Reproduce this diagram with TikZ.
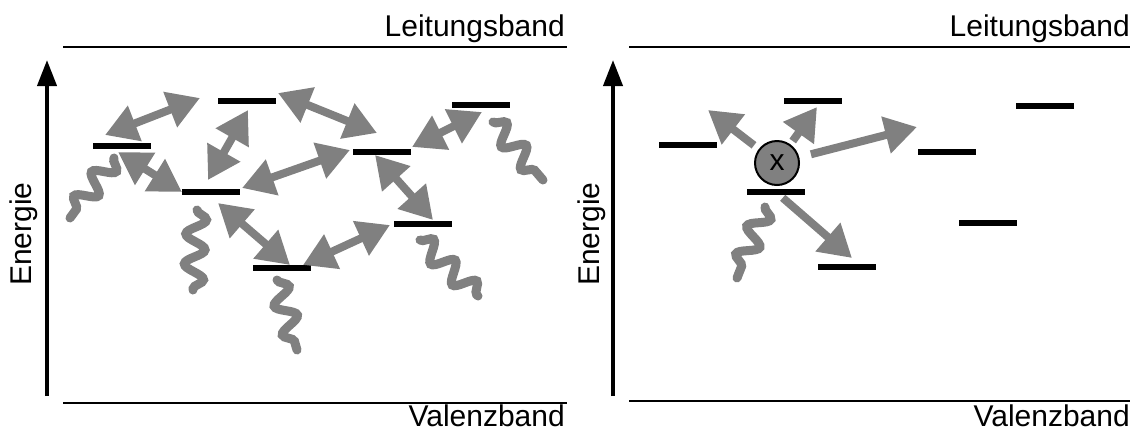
\documentclass[tikz,border=0pt]{standalone}
\usepackage{fontspec}
\setmainfont{Liberation Sans}
\usepackage{tikz}
\usetikzlibrary{arrows.meta, decorations.pathmorphing}
\definecolor{pgray}{HTML}{808080}

\begin{document}
\begin{tikzpicture}[x=1pt, y=-1pt,
  level/.style={fill=black, minimum width=58pt, minimum height=6pt, inner sep=0pt},
  band/.style={line width=2pt},
  axis/.style={line width=4pt, -{Triangle[length=26pt, width=19pt]}},
  hop/.style={pgray, line width=8pt, {Triangle[length=32pt, width=36pt]}-{Triangle[length=32pt, width=36pt]}},
  jump/.style={pgray, line width=8pt, -{Triangle[length=32pt, width=36pt]}},
  photon/.style={pgray, line width=9pt, line cap=round, decorate,
    decoration={snake, segment length=30pt, amplitude=10pt}},
  lbl/.style={font=\fontsize{30}{34}\selectfont, inner sep=0pt}]
  \useasboundingbox (0,0) rectangle (1139,432);

  % bands and energy axes
  \draw[band] (63,47) -- (567,47);
  \draw[band] (63,403) -- (567,403);
  \draw[band] (629,47) -- (1130,47);
  \draw[band] (629,401) -- (1130,401);
  \draw[axis] (47,396) -- (47,60);
  \draw[axis] (613,396) -- (613,60);
  \node[lbl, anchor=base east] (cbL) at (565,36) {Leitungsband};
  \node[lbl, anchor=base east] (vbL) at (565,426) {Valenzband};
  \node[lbl, anchor=base east] (cbR) at (1130,36) {Leitungsband};
  \node[lbl, anchor=base east] (vbR) at (1130,426) {Valenzband};
  \node[lbl, rotate=90] (enL) at (24,234) {Energie};
  \node[lbl, rotate=90] (enR) at (592,234) {Energie};

  % trap levels
  \foreach \n/\x/\y in {l1/122/146, l2/247/101, l3/211/192, l4/282/268, l5/382/152,
      l6/423/224, l7/481/105, r1/688/145, r2/813/101, r3/776/192, r4/847/267,
      r5/947/152, r6/988/223, r7/1045/106}
    \node[level] (\n) at (\x,\y) {};

  % ends of the hopping arrows
  \foreach \n/\x/\y in {a1/105/135, a2/200/98, b1/248/110, b2/208/180,
      c1/118/152, c2/182/192, d1/242/188, d2/350/150, e1/278/93, e2/377/133,
      f1/412/147, f2/482/112, g1/375/155, g2/433/220, h1/218/203, h2/290/265,
      i1/303/265, i2/390/225}
    \coordinate (\n) at (\x,\y);
  \foreach \s in {a,b,c,d,e,f,g,h,i}
    \draw[hop] (\s1) -- (\s2);

  % emission
  \foreach \n/\x/\y in {p1/114/158, q1/70/218, p2/197/210, q2/193/290,
      p3/277/280, q3/297/350, p4/420/240, q4/478/296, p5/493/122, q5/543/180,
      p6/765/207, q6/737/278}
    \coordinate (\n) at (\x,\y);
  \foreach \k in {1,...,6}
    \draw[photon] (p\k) -- (q\k);

  % right: centre x
  \node[circle, draw=black, line width=2pt, fill=pgray, minimum size=44pt,
    inner sep=0pt, font=\fontsize{30}{34}\selectfont] (ion) at (777,163) {x};
  \coordinate (t1) at (708,110);
  \coordinate (t2) at (817,107);
  \coordinate (t3) at (917,127);
  \coordinate (t4) at (852,258);
  \draw[jump, shorten <=6pt] (ion) -- (t1);
  \draw[jump, shorten <=4pt] (ion) -- (t2);
  \draw[jump, shorten <=12pt] (ion) -- (t3);
  \draw[jump, shorten <=4pt] (r3) -- (t4);
\end{tikzpicture}
\end{document}
